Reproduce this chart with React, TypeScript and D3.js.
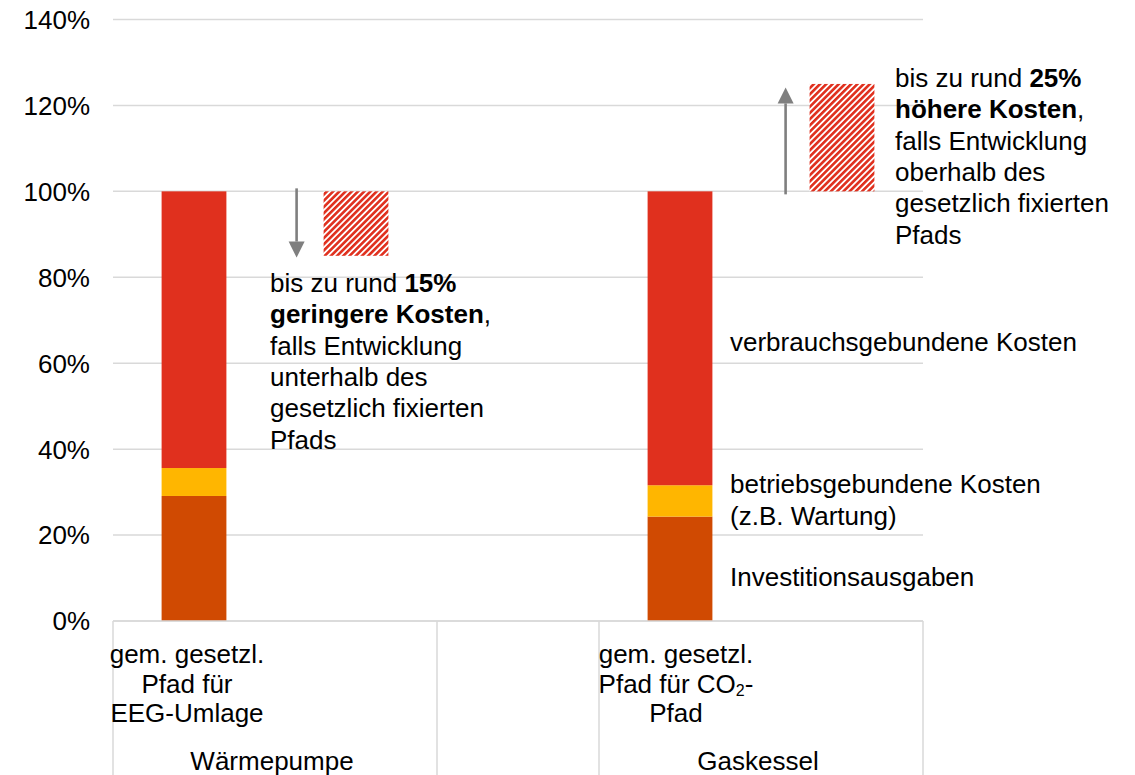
import React, { useEffect } from 'react';
import * as d3 from 'd3';

// ---------- data ----------
const categories = ['wp-pfad', 'wp-spanne', 'luecke', 'gk-pfad', 'gk-spanne'];
const barCategories = ['wp-pfad', 'gk-pfad'];
const investition = [0.291, 0.243];
const betrieb = [0.065, 0.073];
const verbrauch = [0.644, 0.684];
const seriesKeys = ['investition', 'betrieb', 'verbrauch'];
const seriesColors = ['#D04A02', '#FFB600', '#E0301E'];

const rangeCategories = ['wp-spanne', 'gk-spanne'];
const rangeLow = [0.85, 1.0];
const rangeHigh = [1.0, 1.25];
const arrowFrom = [1.0, 1.0];
const arrowTo = [0.846, 1.242];

const yTicks = [0, 0.2, 0.4, 0.6, 0.8, 1.0, 1.2, 1.4];

const groupNames = ['Wärmepumpe', 'Gaskessel'];
const groupStart = [0, 3];
const groupEnd = [2, 5];
const separatorIndex = [0, 2, 3, 5];

const catLabel1 = ['gem. gesetzl.', 'Pfad für', 'EEG-Umlage'];

const segmentLabels = ['Investitionsausgaben', 'betriebsgebundene Kosten', '(z.B. Wartung)', 'verbrauchsgebundene Kosten'];

// ---------- layout ----------
const W = 1135;
const H = 775;
const FONT = '"Liberation Sans", Arial, sans-serif';
const FS = 26;
const GRID = '#D9D9D9';

export default function App() {
  useEffect(() => {
    document.body.style.margin = '0';
  }, []);

  const y = d3.scaleLinear().domain([0, 1.4]).range([621, 19.5]);
  const x = d3.scaleBand<string>().domain(categories).range([113, 923]).paddingInner(0.6).paddingOuter(0.3);
  const step = x.step();
  const x0 = x.range()[0];

  const rows = barCategories.map((c, i) => ({
    cat: c,
    investition: investition[i],
    betrieb: betrieb[i],
    verbrauch: verbrauch[i],
  }));
  const stacked = d3.stack<any>().keys(seriesKeys)(rows);

  const fmt = d3.format('.0%');

  const arrowX = rangeCategories.map((c, i) => (x(c) as number) - (i === 0 ? 27 : 24));

  const gkCenter = (x('gk-pfad') as number) + x.bandwidth() / 2;
  const wpCenter = (x('wp-pfad') as number) + x.bandwidth() / 2;
  const labelX = 730;

  const lh = 31.3;

  return (
    <svg width={W} height={H} style={{ display: 'block', background: '#fff' }} fontFamily={FONT}>
      <defs>
        <pattern id="hatch" patternUnits="userSpaceOnUse" width={4.4} height={4.4} patternTransform="rotate(45)">
          <rect width={4.4} height={4.4} fill="#fff" />
          <rect width={2.6} height={4.4} fill="#E0301E" />
        </pattern>
      </defs>

      {/* gridlines */}
      {yTicks.map((t) => (
        <line key={t} x1={113} x2={923} y1={y(t)} y2={y(t)} stroke={GRID} strokeWidth={1.5} />
      ))}
      {/* y tick labels */}
      {yTicks.map((t) => (
        <text key={'l' + t} x={90} y={y(t)} dy="0.36em" textAnchor="end" fontSize={FS} fill="#000">
          {fmt(t)}
        </text>
      ))}

      {/* category separators */}
      {separatorIndex.map((i) => (
        <line key={'s' + i} x1={x0 + i * step} x2={x0 + i * step} y1={y(0)} y2={H} stroke={GRID} strokeWidth={1.5} />
      ))}

      {/* stacked bars */}
      {stacked.map((s, si) =>
        s.map((d, di) => (
          <rect
            key={si + '-' + di}
            x={x(barCategories[di]) as number}
            width={x.bandwidth()}
            y={y(d[1])}
            height={y(d[0]) - y(d[1])}
            fill={seriesColors[si]}
          />
        ))
      )}

      {/* hatched ranges */}
      {rangeCategories.map((c, i) => (
        <rect
          key={'r' + c}
          x={x(c) as number}
          width={x.bandwidth()}
          y={y(rangeHigh[i])}
          height={y(rangeLow[i]) - y(rangeHigh[i])}
          fill="url(#hatch)"
        />
      ))}

      {/* arrows */}
      {rangeCategories.map((c, i) => {
        const ax = arrowX[i];
        const y1 = y(arrowFrom[i]);
        const y2 = y(arrowTo[i]);
        const dir = y2 > y1 ? 1 : -1;
        const headLen = 16;
        const headW = 8;
        return (
          <g key={'a' + c}>
            <line x1={ax} x2={ax} y1={y1 - dir * 3} y2={y2 - dir * headLen} stroke="#7F7F7F" strokeWidth={2.6} />
            <polygon
              points={`${ax},${y2} ${ax - headW},${y2 - dir * headLen} ${ax + headW},${y2 - dir * headLen}`}
              fill="#7F7F7F"
            />
          </g>
        );
      })}

      {/* axis line */}
      <line x1={113} x2={923} y1={y(0)} y2={y(0)} stroke={GRID} strokeWidth={1.5} />

      {/* category labels */}
      <g fontSize={FS} textAnchor="middle" fill="#000">
        {catLabel1.map((t, i) => (
          <text key={'c1' + i} x={wpCenter - 7} y={663 + i * 29.5}>
            {t}
          </text>
        ))}
        <text x={gkCenter - 4} y={663}>gem. gesetzl.</text>
        <text x={gkCenter - 4} y={692.5}>
          Pfad für CO
          <tspan fontSize={16} dy={3}>2</tspan>
          <tspan dy={-3}>-</tspan>
        </text>
        <text x={gkCenter - 4} y={722}>Pfad</text>
        {groupNames.map((g, i) => (
          <text key={'g' + g} x={x0 + ((groupStart[i] + groupEnd[i]) / 2) * step - 3} y={770}>
            {g}
          </text>
        ))}
      </g>

      {/* segment labels */}
      <g fontSize={FS} fill="#000">
        <text x={labelX} y={586}>{segmentLabels[0]}</text>
        <text x={labelX} y={493}>{segmentLabels[1]}</text>
        <text x={labelX} y={525}>{segmentLabels[2]}</text>
        <text x={labelX} y={351}>{segmentLabels[3]}</text>
      </g>

      {/* annotations */}
      <g fontSize={FS} fill="#000">
        <text x={270} y={292}>
          bis zu rund <tspan fontWeight="bold">15%</tspan>
        </text>
        <text x={270} y={292 + lh}>
          <tspan fontWeight="bold">geringere Kosten</tspan>,
        </text>
        <text x={270} y={292 + 2 * lh}>falls Entwicklung</text>
        <text x={270} y={292 + 3 * lh}>unterhalb des</text>
        <text x={270} y={292 + 4 * lh}>gesetzlich fixierten</text>
        <text x={270} y={292 + 5 * lh}>Pfads</text>

        <text x={895} y={87}>
          bis zu rund <tspan fontWeight="bold">25%</tspan>
        </text>
        <text x={895} y={87 + lh}>
          <tspan fontWeight="bold">höhere Kosten</tspan>,
        </text>
        <text x={895} y={87 + 2 * lh}>falls Entwicklung</text>
        <text x={895} y={87 + 3 * lh}>oberhalb des</text>
        <text x={895} y={87 + 4 * lh}>gesetzlich fixierten</text>
        <text x={895} y={87 + 5 * lh}>Pfads</text>
      </g>
    </svg>
  );
}
